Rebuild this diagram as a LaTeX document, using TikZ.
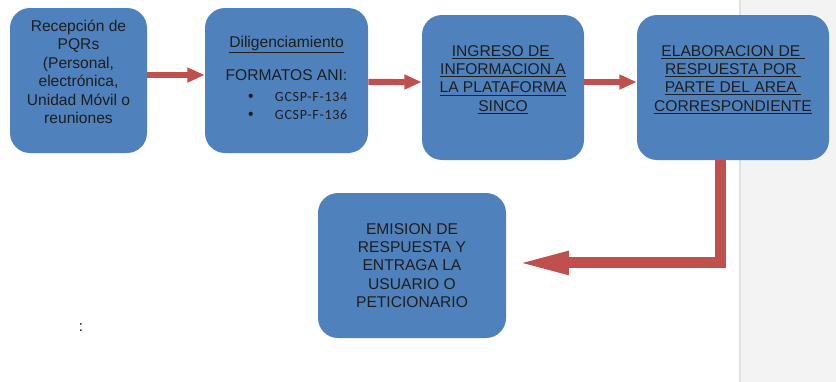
\documentclass[tikz,border=0pt]{standalone}
\usepackage{fontspec}
\setmainfont{Liberation Sans}
\newfontfamily\gcspfont[Scale=0.9,LetterSpace=5]{Carlito}
\usetikzlibrary{arrows.meta}
\definecolor{boxblue}{HTML}{4F81BD}
\definecolor{arrowred}{HTML}{C0504D}
\definecolor{panelgray}{HTML}{F3F3F3}
\definecolor{panelline}{HTML}{E2E2E2}
\definecolor{textdark}{HTML}{1E1E1E}
\def\pxl{0.75pt}
\tikzset{
  flowbox/.style={fill=boxblue,rounded corners=15pt,align=center,inner sep=0pt,
    text=textdark,font=\fontsize{11.7}{13.8}\selectfont},
  flowarrow/.style={draw=arrowred,line width=4.5pt,
    -{Triangle[length=13pt,width=10.5pt]}},
  backarrow/.style={draw=arrowred,line width=8.25pt,line join=miter,
    -{Triangle[length=41pt,width=15.5pt]}}
}
\begin{document}
\begin{tikzpicture}[x=0.75pt,y=-0.75pt,line cap=butt]
		\useasboundingbox (0,0) rectangle (836,382);
		% panel on the right
		\fill[panelgray] (740,0) rectangle (836,382);
		\draw[panelline,line width=1.2pt] (740,0)--(740,382);
		% boxes
		\node[flowbox,minimum width=137*\pxl,minimum height=145*\pxl,text depth=13pt] (recep) at (78.5,80.5)
			{Recepción de\\PQRs\\(Personal,\\electrónica,\\Unidad Móvil o\\reuniones};
		\node[flowbox,minimum width=163*\pxl,minimum height=145*\pxl] (dilig) at (286.5,80.5)
			{\underline{Diligenciamiento}\\[10pt]
			\begin{tabular}{@{}r@{}}FORMATOS ANI:\\[1.5pt]
			\textbullet\hspace{16pt}{\gcspfont GCSP-F-134}\\
			\textbullet\hspace{16pt}{\gcspfont GCSP-F-136}\end{tabular}};
		\node[flowbox,minimum width=162*\pxl,minimum height=145*\pxl,text depth=14pt] (ingreso) at (503,87.5)
			{\underline{INGRESO DE }\\\underline{INFORMACION A}\\\underline{LA PLATAFORMA}\\\underline{SINCO}};
		\node[flowbox,minimum width=192*\pxl,minimum height=145*\pxl,text depth=14pt] (elabor) at (733,87.5)
			{\underline{ELABORACION DE }\\\underline{RESPUESTA POR }\\\underline{PARTE DEL AREA }\\\underline{CORRESPONDIENTE}};
		\node[flowbox,minimum width=188*\pxl,minimum height=145*\pxl] (emision) at (412,265.5)
			{EMISION DE\\RESPUESTA Y\\ENTRAGA LA\\USUARIO O\\PETICIONARIO};
		\node[text=black,font=\fontsize{11.2}{13.5}\selectfont] (colon) at (81,328) {:};
		% connectors
		\draw[flowarrow] ([yshift=4.1pt]recep.east)--([yshift=4.1pt]dilig.west);
		\draw[flowarrow] ([yshift=-1.1pt]dilig.east)--([yshift=4.1pt]ingreso.west);
		\draw[flowarrow] ([yshift=4.1pt]ingreso.east)--([yshift=4.1pt]elabor.west);
		\draw[backarrow] ([xshift=-9.75pt]elabor.south) |- ([xshift=6pt,yshift=1.9pt]emision.east);
\end{tikzpicture}
\end{document}
